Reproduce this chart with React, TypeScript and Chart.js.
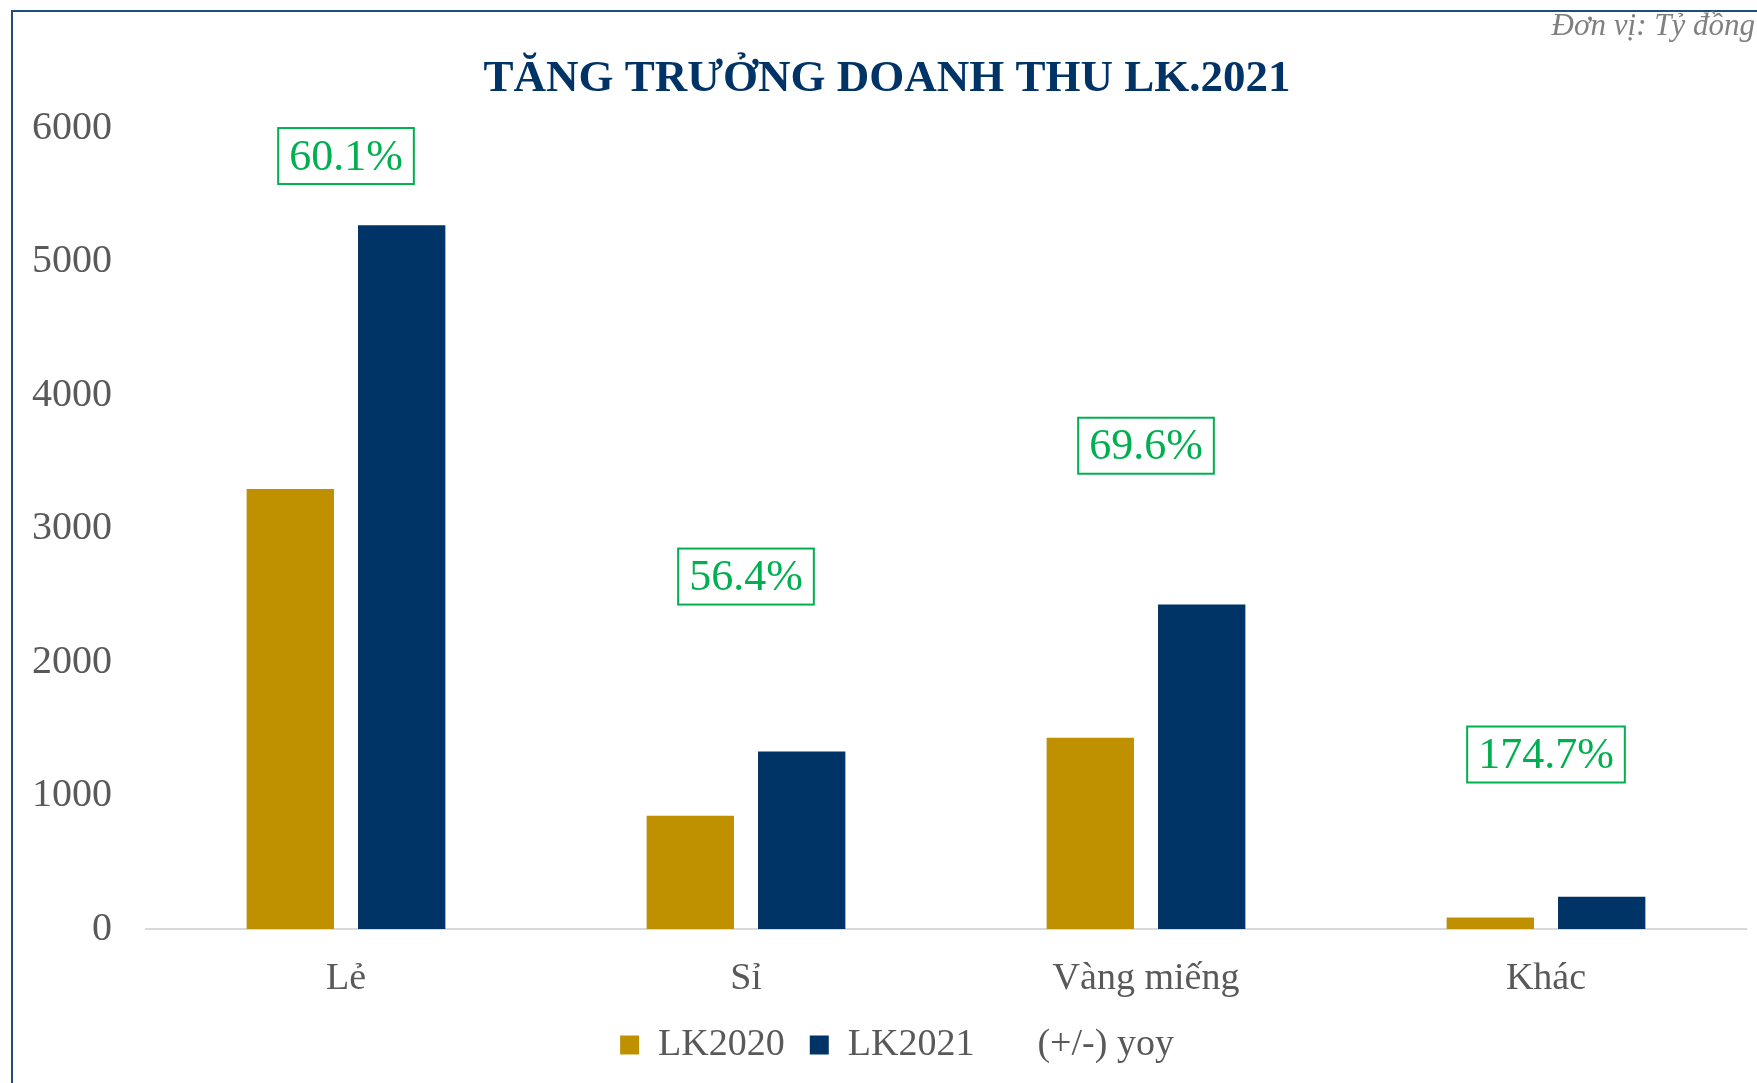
import React, { useEffect, useRef } from "react";
import { Chart, registerables } from "chart.js";

Chart.register(...registerables);

const categories = ["Lẻ", "Sỉ", "Vàng miếng", "Khác"];
const lk2020 = [3295, 848, 1433, 86];
const lk2021 = [5272, 1330, 2430, 242];
const yoyLabels = ["60.1%", "56.4%", "69.6%", "174.7%"];
const yoyLabelLevel = [5790, 2640, 3620, 1307];
const titleText = "TĂNG TRƯỞNG DOANH THU LK.2021";
const unitText = "Đơn vị: Tỷ đồng";

const FONT = '"Liberation Serif", "Times New Roman", serif';
const GREEN = "#00B050";

const decorations = {
  id: "decorations",
  afterLayout(chart: any) {
    if (chart.legend) {
      chart.legend.left += 24;
      chart.legend.right += 24;
    }
  },
  afterDatasetsDraw(chart: any) {
    const meta = chart.getDatasetMeta(2);
    const ctx = chart.ctx;
    ctx.save();
    ctx.font = `44px ${FONT}`;
    meta.data.forEach((pt: any, i: number) => {
      const text = yoyLabels[i];
      const w = ctx.measureText(text).width + 22;
      const h = 56;
      const x = pt.x - w / 2;
      const y = pt.y - h / 2;
      ctx.fillStyle = "#ffffff";
      ctx.fillRect(x, y, w, h);
      ctx.strokeStyle = GREEN;
      ctx.lineWidth = 2;
      ctx.strokeRect(x, y, w, h);
      ctx.fillStyle = GREEN;
      ctx.textAlign = "center";
      ctx.textBaseline = "middle";
      ctx.fillText(text, pt.x, pt.y + 2);
    });
    ctx.restore();
  },
  afterDraw(chart: any) {
    const ctx = chart.ctx;
    ctx.save();
    ctx.font = `bold 45px ${FONT}`;
    ctx.fillStyle = "#003366";
    ctx.textAlign = "center";
    ctx.textBaseline = "middle";
    ctx.fillText(titleText, 887, 79);
    ctx.font = `italic 31px ${FONT}`;
    ctx.fillStyle = "#808080";
    ctx.textAlign = "right";
    ctx.fillText(unitText, 1755, 27);
    ctx.restore();
  },
};

export default function App() {
  const ref = useRef<HTMLCanvasElement | null>(null);

  useEffect(() => {
    if (!ref.current) return;
    const chart = new Chart(ref.current, {
      type: "bar",
      data: {
        labels: categories,
        datasets: [
          {
            label: "LK2020",
            data: lk2020,
            backgroundColor: "#BF9000",
            categoryPercentage: 0.557,
            barPercentage: 0.784,
            order: 2,
          },
          {
            label: "LK2021",
            data: lk2021,
            backgroundColor: "#003366",
            categoryPercentage: 0.557,
            barPercentage: 0.784,
            order: 2,
          },
          {
            type: "line",
            label: "(+/-) yoy",
            data: yoyLabelLevel,
            showLine: false,
            pointRadius: 0,
            borderColor: "transparent",
            backgroundColor: "transparent",
            order: 1,
          } as any,
        ],
      },
      options: {
        responsive: false,
        animation: false,
        devicePixelRatio: 1,
        layout: { padding: { left: 0, right: 11, top: 128, bottom: 9 } },
        plugins: {
          tooltip: { enabled: false },
          title: { display: false },
          legend: {
            position: "bottom",
            labels: {
              font: { family: FONT, size: 38 },
              color: "#595959",
              boxWidth: 19,
              boxHeight: 19,
              padding: 25,
              generateLabels(chart: any) {
                return chart.data.datasets.map((ds: any, i: number) => ({
                  text: ds.label,
                  fillStyle: i === 2 ? "transparent" : ds.backgroundColor,
                  strokeStyle: "transparent",
                  lineWidth: 0,
                  fontColor: "#595959",
                  hidden: false,
                  datasetIndex: i,
                }));
              },
            },
          },
        },
        scales: {
          x: {
            grid: { display: false, drawTicks: false },
            border: { display: true, color: "#D9D9D9", width: 2 },
            ticks: {
              font: { family: FONT, size: 38 },
              color: "#595959",
              padding: 27,
            },
            afterFit(scale: any) {
              scale.height = 72;
            },
          },
          y: {
            min: 0,
            max: 6000,
            grid: { display: false, drawTicks: false },
            border: { display: false },
            ticks: {
              stepSize: 1000,
              font: { family: FONT, size: 40 },
              color: "#595959",
              padding: 34,
              callback: (v: any) => String(v),
            },
            afterFit(scale: any) {
              scale.width = 146;
            },
          },
        },
      },
      plugins: [decorations],
    });
    return () => chart.destroy();
  }, []);

  return (
    <div
      style={{
        position: "fixed",
        left: 0,
        top: 0,
        width: 1757,
        height: 1083,
        overflow: "hidden",
        background: "#ffffff",
      }}
    >
      <div
        style={{
          position: "absolute",
          left: 11,
          top: 10,
          width: 1800,
          height: 1200,
          borderLeft: "2px solid #1F4E79",
          borderTop: "2px solid #1F4E79",
        }}
      />
      <canvas
        ref={ref}
        width={1757}
        height={1083}
        style={{ position: "absolute", left: 0, top: 0, width: 1757, height: 1083 }}
      />
    </div>
  );
}
